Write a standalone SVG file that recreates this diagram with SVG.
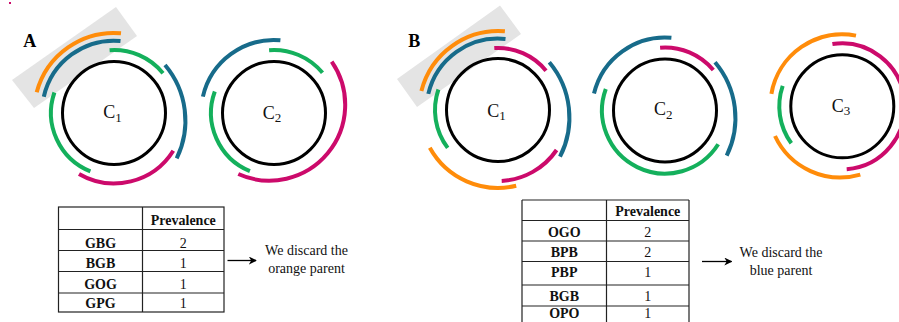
<svg xmlns="http://www.w3.org/2000/svg" width="899" height="322" viewBox="0 0 899 322">
  <style>
    .arc { fill: none; stroke-width: 4; stroke-linecap: butt; }
    .o { stroke: #ff8c0a; }
    .b { stroke: #176b8a; }
    .g { stroke: #14b05c; }
    .m { stroke: #cc0a6b; }
    .ring { fill: none; stroke: #000; stroke-width: 3; }
    .hl { fill: #e4e4e4; }
    .lbl { font-family: "Liberation Serif", "Times New Roman", serif; font-size: 18px; fill: #111; }
    .sub { font-size: 13px; }
    .panel { font-family: "Liberation Serif", "Times New Roman", serif; font-size: 18px; font-weight: bold; fill: #000; }
    .grid { fill: none; stroke: #222; stroke-width: 1.2; }
    .th { font-family: "Liberation Serif", "Times New Roman", serif; font-size: 14px; font-weight: bold; fill: #111; text-anchor: middle; }
    .td { font-family: "Liberation Serif", "Times New Roman", serif; font-size: 14px; fill: #111; text-anchor: middle; }
    .note { font-family: "Liberation Serif", "Times New Roman", serif; font-size: 14px; fill: #111; text-anchor: middle; }
    .conn { fill: none; stroke: #000; stroke-width: 1.3; }
  </style>
  <defs>
    <marker id="head" viewBox="0 0 10 10" refX="9" refY="5" markerWidth="8" markerHeight="8" markerUnits="userSpaceOnUse" orient="auto">
      <path d="M0,0 L10,5 L0,10 L3,5 z" fill="#000"/>
    </marker>
  </defs>

  <rect x="9" y="2" width="2" height="2" fill="#cc0a6b"/>

  <!-- Panel A -->
  <text class="panel" x="23.3" y="46.7">A</text>

  <g id="a-c1">
    <polygon class="hl" points="12,80 34,108 137,36 116,7"/>
    <path class="arc o" d="M36.7,92.3 A80,80 0 0 1 121,33.3"/>
    <path class="arc b" d="M43.8,96.8 A72,72 0 0 1 120.5,41"/>
    <path class="arc g" d="M109.6,50.2 A63,63 0 0 1 163,73.2"/>
    <path class="arc b" d="M165,65 A86,86 0 0 1 176.7,158.3"/>
    <path class="arc m" d="M173.3,150.7 A70,70 0 0 1 79,174"/>
    <path class="arc g" d="M90.4,171.4 A63,63 0 0 1 54.4,92.5"/>
    <circle class="ring" cx="114" cy="113" r="51.5"/>
    <text class="lbl" x="103.3" y="118.3">C<tspan class="sub" dy="3.5">1</tspan></text>
  </g>

  <g id="a-c2">
    <path class="arc b" d="M202.9,96.6 A73,73 0 0 1 280.4,40.3"/>
    <path class="arc g" d="M269.1,50.2 A63,63 0 0 1 322.5,72.8"/>
    <path class="arc m" d="M331.7,61.7 A75.8,75.8 0 0 1 238.3,174"/>
    <path class="arc g" d="M249.9,171.2 A63,63 0 0 1 214.8,91.5"/>
    <circle class="ring" cx="274" cy="113" r="51.5"/>
    <text class="lbl" x="262.7" y="118.5">C<tspan class="sub" dy="3.5">2</tspan></text>
  </g>

  <g id="a-table">
    <rect class="grid" x="58.5" y="207" width="165.5" height="105"/>
    <path class="grid" d="M142.5,207 V312 M58.5,229.5 H224 M58.5,250.5 H224 M58.5,271.5 H224 M58.5,293 H224"/>
    <text class="th" x="183.3" y="224.5">Prevalence</text>
    <text class="th" x="100.5" y="247.5">GBG</text>
    <text class="td" x="183.3" y="247.5">2</text>
    <text class="th" x="100.5" y="267.5">BGB</text>
    <text class="td" x="183.3" y="267.5">1</text>
    <text class="th" x="100.5" y="289">GOG</text>
    <text class="td" x="183.3" y="289">1</text>
    <text class="th" x="100.5" y="307.5">GPG</text>
    <text class="td" x="183.3" y="307.5">1</text>
  </g>

  <g id="a-note">
    <text class="note" x="306.5" y="255">We discard the</text>
    <text class="note" x="306.5" y="273">orange parent</text>
  </g>

  <!-- Panel B -->
  <text class="panel" x="408.3" y="47">B</text>

  <g id="b-c1">
    <polygon class="hl" points="397,79 417,107 521,34 500,5.5"/>
    <path class="arc o" d="M421.4,90.9 A79.5,79.5 0 0 1 504.9,31.3"/>
    <path class="arc b" d="M428.3,93.9 A71.5,71.5 0 0 1 505.5,38.9"/>
    <path class="arc m" d="M494.3,48.1 A62,62 0 0 1 546,70.7"/>
    <path class="arc b" d="M549.3,62.3 A86,86 0 0 1 560,156.7"/>
    <path class="arc m" d="M556.6,150 A71,71 0 0 1 501.7,180.9"/>
    <path class="arc o" d="M516.2,185.8 A78,78 0 0 1 429.8,147.8"/>
    <path class="arc g" d="M447.7,147.9 A63,63 0 0 1 438.4,89.5"/>
    <circle class="ring" cx="498" cy="110" r="51.5"/>
    <text class="lbl" x="487.3" y="116.5">C<tspan class="sub" dy="3.5">1</tspan></text>
  </g>

  <g id="b-c2">
    <path class="arc b" d="M594,93.5 A73,73 0 0 1 671.4,37.8"/>
    <path class="arc m" d="M660.1,47.7 A63,63 0 0 1 713.3,70"/>
    <path class="arc b" d="M715,62.3 A86,86 0 0 1 726.7,155.7"/>
    <path class="arc g" d="M718.2,144.3 A63,63 0 0 1 605.8,89"/>
    <circle class="ring" cx="665" cy="110.5" r="51.5"/>
    <text class="lbl" x="654" y="115">C<tspan class="sub" dy="3.5">2</tspan></text>
  </g>

  <g id="b-c3">
    <path class="arc o" d="M771.4,93.8 A72,72 0 0 1 856,35.6"/>
    <path class="arc m" d="M832.4,44.1 A63,63 0 1 1 846.7,169.2"/>
    <path class="arc g" d="M791.3,143.3 A63,63 0 0 1 782.7,85.8"/>
    <path class="arc o" d="M860.3,174.6 A72,72 0 0 1 775,136"/>
    <circle class="ring" cx="842.3" cy="106.3" r="51.5"/>
    <text class="lbl" x="831.7" y="111.7">C<tspan class="sub" dy="3.5">3</tspan></text>
  </g>

  <g id="b-table">
    <path class="grid" d="M522,200 H689 M522,200 V322 M606.5,200 V322 M689,200 V322 M522,220.5 H689 M522,241 H689 M522,261.5 H689 M522,285 H689 M522,306 H689"/>
    <text class="th" x="647.8" y="216">Prevalence</text>
    <text class="th" x="564.3" y="236.5">OGO</text>
    <text class="td" x="647.8" y="236.5">2</text>
    <text class="th" x="564.3" y="256.7">BPB</text>
    <text class="td" x="647.8" y="256.7">2</text>
    <text class="th" x="564.3" y="277.3">PBP</text>
    <text class="td" x="647.8" y="277.3">1</text>
    <text class="th" x="564.3" y="300.8">BGB</text>
    <text class="td" x="647.8" y="300.8">1</text>
    <text class="th" x="564.3" y="318">OPO</text>
    <text class="td" x="647.8" y="318">1</text>
  </g>

  <g id="b-note">
    <text class="note" x="781" y="256.5">We discard the</text>
    <text class="note" x="781" y="274.5">blue parent</text>
  </g>

  <!-- connectors -->
  <g id="connectors">
    <path class="conn" d="M227.5,260.5 H256" marker-end="url(#head)"/>
    <path class="conn" d="M702,261.5 H731.5" marker-end="url(#head)"/>
  </g>
</svg>
